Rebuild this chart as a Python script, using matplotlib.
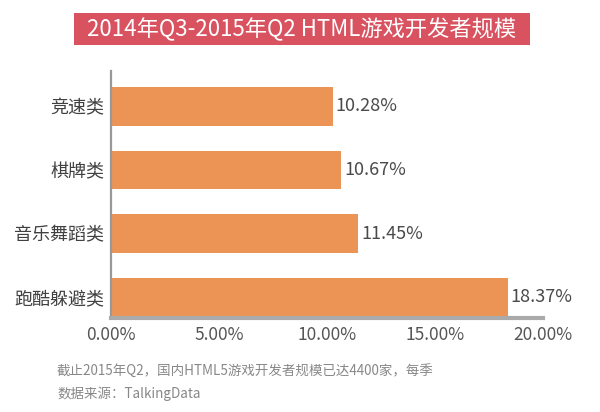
import matplotlib
matplotlib.use("Agg")
import matplotlib.pyplot as plt
from matplotlib.patches import Rectangle

plt.rcParams['font.family'] = ['Noto Sans CJK SC', 'DejaVu Sans']

categories = ['竞速类', '棋牌类', '音乐舞蹈类', '跑酷躲避类']
values = [10.28, 10.67, 11.45, 18.37]
value_labels = ['10.28%', '10.67%', '11.45%', '18.37%']
xticks = [0, 5, 10, 15, 20]
xtick_labels = ['0.00%', '5.00%', '10.00%', '15.00%', '20.00%']
title = '2014年Q3-2015年Q2 HTML游戏开发者规模'
note1 = '截止2015年Q2，国内HTML5游戏开发者规模已达4400家，每季'
note2 = '数据来源：TalkingData'

fig = plt.figure(figsize=(6, 4.12), dpi=100)
ax = fig.add_axes([0.185, 0.228, 0.72, 0.6])

ypos = list(range(len(categories)))
ax.barh(ypos, values, height=0.61, color='#EC9455', zorder=2)
for y, v, lab in zip(ypos, values, value_labels):
    ax.text(v + 0.12, y, lab, va='center', ha='left', fontsize=13, color='#4a4a4a')

ax.set_xlim(0, 20)
ax.set_ylim(3.33, -0.56)
ax.set_yticks(ypos)
ax.set_yticklabels(categories, fontsize=13, color='#404040')
ax.set_xticks(xticks)
ax.set_xticklabels(xtick_labels, fontsize=12.5, color='#555555')
ax.tick_params(length=0, pad=6)
ax.tick_params(axis='y', pad=5)
for s in ['top', 'right']:
    ax.spines[s].set_visible(False)
ax.spines['left'].set_color('#999999')
ax.spines['left'].set_linewidth(1.6)
ax.spines['bottom'].set_color('#AAAAAA')
ax.spines['bottom'].set_linewidth(3)

# title box
fig.patches.append(Rectangle((74/600, 1 - 45/412), (530-74)/600, 32/412,
                             transform=fig.transFigure, facecolor='#D8525F',
                             edgecolor='none'))
fig.text(302/600, 1 - 29/412, title, ha='center', va='center',
         fontsize=16, color='white')

fig.text(57/600, 1 - 371/412, note1, ha='left', va='center', fontsize=9.7, color='#888888')
fig.text(57/600, 1 - 394/412, note2, ha='left', va='center', fontsize=9.7, color='#888888')

fig.savefig('out.png', dpi=100)
